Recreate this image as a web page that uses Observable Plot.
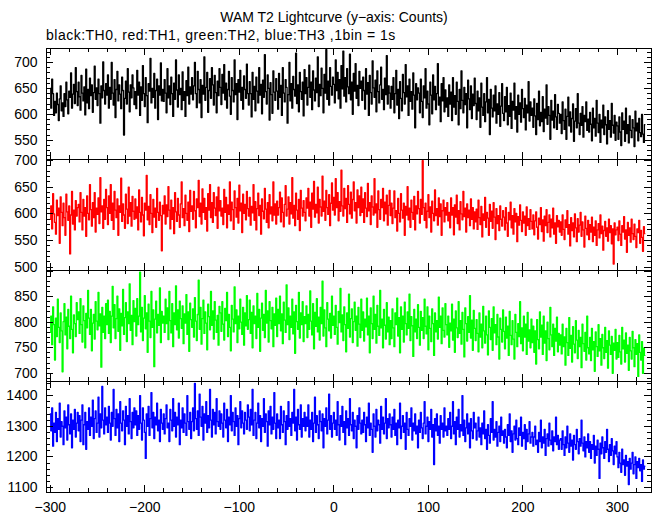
<!DOCTYPE html>
<html>
<head>
<meta charset="utf-8">
<script src="https://cdn.jsdelivr.net/npm/d3@7"></script>
<script src="https://cdn.jsdelivr.net/npm/@observablehq/plot@0.6"></script>
<style>
  body { margin: 0; background: white; }
  #head { position: relative; width: 652px; height: 46px; font-family: "Liberation Sans", Arial, sans-serif; color: black; }
  #title { position: absolute; left: 0; top: 9px; width: 652px; box-sizing: border-box; padding-left: 16px; text-align: center; font-size: 14px; line-height: 16px; }
  #subtitle { position: absolute; left: 46px; top: 27px; font-size: 14px; line-height: 16px; letter-spacing: 0.5px; white-space: nowrap; }
  #chart { position: relative; width: 652px; height: 469px; }
  #chart svg { position: absolute; left: 0; top: 0; }
</style>
</head>
<body>
<div id="head">
  <div id="title">WAM T2 Lightcurve (y−axis: Counts)</div>
  <div id="subtitle">black:TH0, red:TH1, green:TH2, blue:TH3 ,1bin = 1s</div>
</div>
<div id="chart"></div>
<script>
// ---- data: counts per 1 s bin, starting at t = -300 s ----
const tStart = -300;
const binSize = 1;

const th0 = [
650,612,668,640,598,625,603,641,619,588,630,655,607,622,596,640,615,662,628,601,645,633,680,612,639,658,621,690,644,617,
662,634,608,675,641,626,653,599,687,622,648,611,670,636,657,604,642,693,629,651,617,668,640,583,655,632,701,646,620,659,
637,676,612,652,629,700,641,618,667,594,648,683,626,657,639,611,672,646,560,631,664,620,688,643,605,657,632,676,651,619,
644,611,685,637,662,598,653,627,694,640,615,671,636,584,659,645,708,622,650,633,679,612,646,668,590,655,637,699,626,648,
625,667,641,603,688,632,655,619,672,640,596,660,629,705,647,614,676,638,650,609,682,627,644,596,665,636,691,620,653,639,
671,628,655,700,640,613,683,648,622,667,594,656,639,711,627,652,681,604,646,669,631,690,657,618,675,642,603,664,636,688,
652,619,677,641,696,628,660,612,648,683,635,600,671,646,624,705,638,659,590,667,643,685,627,652,610,674,648,631,697,640,
618,663,640,595,681,629,654,607,672,645,622,690,637,658,601,666,633,715,644,620,676,650,589,661,638,602,684,643,627,669,
645,610,679,633,656,598,690,641,624,667,652,583,638,700,626,659,612,673,648,635,718,621,657,605,681,644,629,662,597,686,
640,671,618,652,695,633,662,609,684,647,626,670,642,711,615,658,636,689,650,603,677,641,725,629,664,618,690,654,637,672,
658,622,705,646,681,630,667,612,694,649,722,635,671,624,688,653,640,716,628,662,600,679,645,698,631,656,617,683,650,664,
627,672,646,610,688,639,661,598,675,642,620,703,651,633,666,605,684,644,622,657,691,629,648,609,670,638,713,620,655,641,
612,654,629,671,603,640,685,618,648,592,663,631,607,677,642,620,696,634,655,598,668,625,644,610,680,637,574,659,628,651,
641,603,668,625,594,655,632,688,612,645,620,580,662,637,601,676,628,654,609,640,698,618,633,586,659,626,671,605,647,614,
632,596,657,620,643,588,671,614,636,600,662,625,580,648,611,684,627,603,652,619,640,574,666,630,609,655,592,639,617,670,
621,590,645,607,632,575,660,614,598,640,586,624,671,603,629,561,648,612,595,637,607,655,583,620,600,642,577,616,659,602,
588,634,605,652,580,617,596,641,573,625,608,660,591,615,566,637,600,622,585,648,611,594,631,570,618,603,663,587,624,598,
612,575,630,597,561,621,590,645,578,604,586,634,567,610,593,657,581,615,598,552,627,589,606,574,638,595,571,619,602,583,
600,563,624,588,571,610,552,596,633,578,605,566,592,620,548,587,611,574,640,583,561,602,579,615,556,598,586,624,569,591,
566,604,581,549,612,574,592,558,627,583,565,600,546,589,574,618,561,595,580,543,607,571,588,556,621,579,564,598,550,585,
578,552,595,566,540,603,571,587,548,612,563,580,545,597,569,555,590,574,538,606,568,583,549,592,565,557,600,562,546,580
];

const th1 = [
590,615,572,638,600,584,562,626,597,611,545,632,603,578,620,593,560,637,604,588,615,525,598,642,581,607,570,625,596,612,
618,585,640,603,570,627,596,612,558,634,601,589,655,608,577,621,593,640,566,611,599,630,582,668,604,615,573,627,590,646,
612,580,634,601,655,588,620,571,642,607,593,628,560,615,603,667,586,619,598,573,637,609,582,650,596,621,577,633,605,590,
628,592,613,570,645,603,585,631,598,559,620,607,672,589,614,580,636,601,565,627,594,611,575,648,603,588,622,597,531,616,
600,634,581,617,595,651,607,572,626,590,612,563,640,604,586,629,598,575,619,660,593,610,578,635,601,588,622,567,644,605,
615,590,642,606,574,628,612,663,595,620,581,647,603,629,590,612,568,638,607,655,593,621,584,640,611,597,632,573,650,606,
625,596,611,580,646,603,631,574,617,599,660,587,622,608,571,643,612,594,629,583,654,606,620,565,637,601,618,589,642,610,
596,631,579,614,602,655,588,623,570,610,639,597,616,562,628,605,591,648,609,584,621,574,636,600,613,587,660,598,619,581,
624,598,612,641,585,630,603,576,618,653,596,609,632,581,621,600,668,592,616,578,639,607,590,627,569,644,611,596,625,603,
587,630,611,648,596,622,575,639,609,661,594,618,602,650,583,627,613,596,671,605,624,588,644,612,599,636,578,620,658,607,
631,598,666,612,640,587,623,605,682,615,596,648,610,629,584,653,618,600,641,592,627,660,606,621,583,645,612,634,597,650,
603,628,584,640,611,595,657,606,621,580,634,613,598,666,602,619,575,643,608,590,627,612,648,587,622,600,635,579,616,644,
597,620,582,611,643,593,606,568,629,601,585,638,607,592,620,560,614,598,651,589,611,575,626,603,590,633,570,615,600,642,
610,583,627,599,700,612,588,620,574,605,636,593,613,566,624,601,587,645,597,610,579,630,595,619,560,606,626,585,612,598,
621,587,603,574,630,598,612,561,617,594,635,582,606,570,623,600,589,642,595,611,566,619,593,607,578,628,590,612,572,604,
585,609,571,626,593,580,614,557,600,588,631,575,603,592,560,618,586,605,573,621,594,552,610,582,597,569,615,590,577,606,
594,570,612,583,558,603,589,622,574,597,562,610,585,601,548,595,579,617,588,567,604,583,596,560,613,578,591,571,608,586,
572,598,561,587,604,575,553,592,580,612,567,589,549,596,578,608,565,584,598,557,590,574,611,562,583,545,597,576,588,566,
585,560,598,571,552,589,575,606,562,580,540,593,569,583,557,600,574,548,591,566,579,603,558,585,570,538,596,573,561,588,
552,580,566,594,548,575,560,587,541,570,582,555,598,563,577,532,569,586,558,574,549,590,565,578,544,572,506,583,561,570,
575,550,587,562,541,578,566,595,553,570,528,584,560,574,547,590,563,552,581,558,537,572,565,588,545,569,556,530,576,563
];

const th2 = [
780,812,756,830,795,726,808,772,845,790,760,818,783,703,801,836,775,810,748,825,792,768,851,786,740,814,797,772,838,805,
820,778,846,795,761,832,803,750,817,789,862,808,776,825,744,798,815,767,840,802,785,858,793,816,712,829,780,812,768,836,
795,843,778,821,760,812,870,789,834,768,807,851,782,826,745,817,793,864,776,809,838,762,820,797,875,784,813,756,842,801,
827,773,846,795,812,898,781,829,764,808,852,787,818,741,835,802,770,860,790,824,713,806,841,779,815,794,867,760,821,798,
812,780,845,797,828,766,860,803,779,836,752,818,795,871,785,824,769,841,807,788,832,758,816,798,854,776,820,743,837,805,
790,826,771,848,802,764,815,882,786,829,757,807,843,778,820,798,746,835,811,785,860,794,822,767,840,804,780,813,755,831,
818,782,840,796,765,827,803,858,772,815,790,744,833,806,781,869,797,824,760,812,787,845,800,776,829,755,818,793,852,786,
805,843,778,819,750,832,797,812,768,856,790,825,743,808,837,784,815,770,862,798,822,761,840,803,787,829,752,816,794,847,
772,825,797,851,783,816,758,839,804,780,873,795,828,766,812,790,845,777,820,739,833,801,786,858,769,818,795,840,762,811,
797,832,770,815,786,861,802,775,836,748,819,792,846,781,810,765,829,797,880,773,824,789,752,838,806,783,817,769,851,794,
812,776,833,790,757,821,799,866,781,814,764,830,795,742,818,788,855,771,807,826,760,801,839,784,812,753,829,796,770,845,
784,820,763,806,791,847,775,812,740,828,797,768,851,786,815,759,833,792,774,862,789,806,750,825,794,767,838,781,810,756,
803,768,826,789,752,818,795,847,773,809,740,830,786,812,761,839,797,775,820,788,855,764,811,793,733,825,781,806,768,834,
790,755,821,784,809,768,845,792,777,830,746,812,788,762,826,797,735,818,781,803,767,849,790,812,758,828,784,771,836,795,
775,812,751,798,783,835,765,806,741,822,789,770,840,778,803,757,819,786,732,828,797,763,811,780,852,769,804,745,823,788,
764,805,778,742,818,771,796,750,831,783,759,812,775,736,822,790,766,807,745,830,779,795,756,815,771,728,808,786,761,824,
782,748,810,769,792,735,821,774,756,803,767,728,815,780,752,797,772,840,758,789,744,812,771,796,737,819,763,785,750,806,
760,792,741,783,718,805,766,748,820,771,794,737,812,759,783,725,800,768,746,829,775,752,796,735,788,763,810,742,778,755,
775,738,796,752,771,716,788,760,735,809,749,774,722,791,757,740,803,765,729,784,752,770,711,796,758,743,780,726,812,750,
738,770,725,788,746,762,704,781,752,733,795,744,768,716,776,750,729,790,741,764,710,783,755,737,772,700,759,745,786,728,
760,731,774,742,718,790,748,765,722,779,739,755,706,770,744,728,782,750,713,766,737,758,694,775,741,726,762,700,749,735
];

const th3 = [
1340,1285,1360,1235,1310,1280,1345,1250,1325,1290,1375,1265,1315,1300,1240,1350,1295,1330,1255,1370,1305,1275,1340,1230,1320,1290,1355,1265,1310,1345,
1285,1335,1250,1320,1370,1240,1305,1345,1225,1315,1290,1360,1270,1330,1300,1385,1260,1325,1350,1280,1310,1395,1265,1340,1295,1430,1320,1275,1360,1305,
1330,1280,1365,1310,1255,1345,1300,1420,1325,1270,1355,1295,1340,1250,1380,1310,1285,1350,1320,1240,1365,1300,1335,1275,1390,1315,1260,1345,1295,1360,
1305,1350,1270,1335,1290,1400,1310,1255,1360,1320,1280,1195,1340,1300,1365,1270,1325,1410,1295,1345,1260,1330,1305,1375,1285,1320,1250,1355,1310,1290,
1340,1275,1325,1370,1295,1310,1250,1355,1320,1285,1390,1300,1345,1265,1330,1305,1375,1240,1320,1295,1360,1280,1340,1310,1270,1400,1315,1290,1345,1260,
1315,1360,1285,1440,1325,1290,1350,1270,1405,1330,1300,1365,1255,1340,1310,1380,1280,1335,1295,1420,1320,1265,1355,1305,1345,1275,1390,1315,1300,1350,
1290,1340,1310,1265,1375,1320,1295,1355,1250,1330,1305,1400,1285,1345,1315,1270,1360,1300,1335,1240,1325,1380,1295,1350,1310,1275,1345,1320,1290,1370,
1330,1285,1355,1305,1420,1270,1320,1345,1260,1310,1375,1295,1335,1250,1325,1300,1390,1280,1340,1315,1235,1350,1305,1365,1275,1330,1290,1410,1310,1260,
1340,1295,1320,1260,1365,1305,1280,1350,1315,1240,1335,1290,1380,1300,1325,1270,1345,1310,1420,1285,1330,1255,1355,1305,1290,1370,1265,1325,1300,1345,
1285,1330,1300,1370,1265,1320,1290,1345,1250,1310,1395,1280,1335,1305,1260,1350,1315,1285,1340,1230,1325,1300,1360,1275,1320,1405,1290,1335,1265,1310,
1345,1290,1320,1270,1380,1305,1255,1335,1300,1365,1280,1315,1240,1350,1295,1325,1270,1390,1305,1285,1345,1260,1320,1300,1230,1335,1290,1360,1310,1275,
1320,1280,1345,1305,1250,1330,1295,1375,1270,1310,1290,1215,1340,1300,1265,1355,1285,1320,1305,1245,1365,1290,1330,1275,1310,1390,1260,1325,1295,1340,
1305,1265,1330,1290,1355,1270,1310,1240,1320,1295,1375,1260,1300,1335,1280,1310,1225,1345,1290,1270,1325,1300,1360,1255,1310,1285,1340,1275,1300,1230,
1320,1280,1345,1295,1260,1310,1380,1275,1300,1330,1250,1315,1290,1355,1265,1305,1175,1325,1285,1340,1270,1300,1245,1335,1290,1310,1265,1360,1285,1300,
1270,1325,1290,1345,1260,1300,1380,1275,1315,1240,1330,1290,1355,1265,1305,1285,1400,1270,1320,1250,1295,1340,1275,1310,1230,1325,1285,1260,1345,1295,
1310,1255,1285,1330,1265,1295,1240,1310,1275,1350,1260,1290,1225,1305,1270,1245,1325,1280,1380,1255,1290,1265,1315,1235,1280,1300,1250,1330,1270,1285,
1245,1290,1265,1230,1305,1270,1340,1250,1285,1215,1275,1300,1255,1320,1260,1240,1295,1270,1330,1235,1280,1260,1305,1225,1290,1250,1275,1315,1245,1265,
1280,1235,1265,1300,1240,1255,1215,1280,1250,1320,1230,1265,1245,1290,1205,1260,1275,1235,1310,1255,1240,1285,1220,1265,1250,1330,1240,1270,1225,1255,
1260,1225,1285,1240,1205,1265,1230,1300,1245,1215,1275,1235,1255,1190,1270,1240,1225,1290,1250,1210,1260,1235,1320,1245,1220,1265,1200,1250,1230,1275,
1215,1250,1195,1240,1225,1270,1180,1235,1205,1255,1225,1130,1245,1210,1265,1230,1195,1250,1215,1290,1225,1185,1240,1205,1260,1220,1175,1235,1210,1250,
1200,1165,1215,1180,1150,1225,1175,1190,1140,1205,1170,1185,1110,1195,1160,1180,1215,1145,1175,1200,1130,1185,1165,1195,1155,1175,1120,1190,1160,1170
];

// ---- tick values ----
const xMajorTicks = [-300, -200, -100, 0, 100, 200, 300];
const xMinorTicks = [-300,-280,-260,-240,-220,-200,-180,-160,-140,-120,-100,-80,-60,-40,-20,0,20,40,60,80,100,120,140,160,180,200,220,240,260,280,300,320];

const y0Labels = [550, 600, 650, 700];
const y0Major = [550, 600, 650, 700];
const y0Minor = [520,530,540,550,560,570,580,590,600,610,620,630,640,650,660,670,680,690,700,710,720];

const y1Labels = [500, 550, 600, 650, 700];
const y1Major = [500, 550, 600, 650, 700];
const y1Minor = [500,510,520,530,540,550,560,570,580,590,600,610,620,630,640,650,660,670,680,690,700];

const y2Labels = [700, 750, 800, 850];
const y2Major = [700, 750, 800, 850, 900];
const y2Minor = [690,700,710,720,730,740,750,760,770,780,790,800,810,820,830,840,850,860,870,880,890,900];

const y3Labels = [1100, 1200, 1300, 1400];
const y3Major = [1100, 1200, 1300, 1400];
const y3Minor = [1100,1120,1140,1160,1180,1200,1220,1240,1260,1280,1300,1320,1340,1360,1380,1400,1420,1440];

// ---- layout ----
const W = 652, H = 469, HEAD = 46;
const ML = 46, MR = 1;
const panels = [
  {values: th0, color: "#000000", domain: [513, 727], top: 48,  bottom: 159, labels: y0Labels, major: y0Major, minor: y0Minor},
  {values: th1, color: "#ff0000", domain: [494, 702], top: 159, bottom: 270, labels: y1Labels, major: y1Major, minor: y1Minor},
  {values: th2, color: "#00ff00", domain: [684, 901], top: 270, bottom: 381, labels: y2Labels, major: y2Major, minor: y2Minor},
  {values: th3, color: "#0000ff", domain: [1084, 1446], top: 381, bottom: 492, labels: y3Labels, major: y3Major, minor: y3Minor}
];

const chart = document.getElementById("chart");
const fmt = d3.format("d");
const font = "'Liberation Sans', Arial, Helvetica, sans-serif";

panels.forEach((p, k) => {
  const rows = p.values.map((v, i) => ({t: tStart + i * binSize, v}));
  const ph = p.bottom - p.top;
  const pw = W - ML - MR;
  const majLen = 7, minLen = 4;
  const marks = [
    Plot.line(rows, {x: "t", y: "v", stroke: p.color, strokeWidth: 1.3, curve: "step", clip: true}),
    // x ticks, top and bottom, inward
    Plot.tickX(xMajorTicks, {x: d => d, insetBottom: ph - majLen, stroke: "black", shapeRendering: "crispEdges"}),
    Plot.tickX(xMajorTicks, {x: d => d, insetTop: ph - majLen, stroke: "black", shapeRendering: "crispEdges"}),
    Plot.tickX(xMinorTicks, {x: d => d, insetBottom: ph - minLen, stroke: "black", shapeRendering: "crispEdges"}),
    Plot.tickX(xMinorTicks, {x: d => d, insetTop: ph - minLen, stroke: "black", shapeRendering: "crispEdges"}),
    // y ticks, left and right, inward
    Plot.tickY(p.major, {y: d => d, insetRight: pw - majLen, stroke: "black", shapeRendering: "crispEdges"}),
    Plot.tickY(p.major, {y: d => d, insetLeft: pw - majLen, stroke: "black", shapeRendering: "crispEdges"}),
    Plot.tickY(p.minor, {y: d => d, insetRight: pw - minLen, stroke: "black", shapeRendering: "crispEdges"}),
    Plot.tickY(p.minor, {y: d => d, insetLeft: pw - minLen, stroke: "black", shapeRendering: "crispEdges"}),
    Plot.frame({stroke: "black", strokeWidth: 1, shapeRendering: "crispEdges"}),
    Plot.axisY(p.labels, {anchor: "left", tickSize: 0, tickPadding: 9, tickFormat: fmt, label: null, fontSize: 14})
  ];
  if (k === panels.length - 1) {
    marks.push(Plot.axisX(xMajorTicks, {anchor: "bottom", tickSize: 0, tickPadding: 10, tickFormat: fmt, label: null, fontSize: 14}));
  }
  const svg = Plot.plot({
    width: W,
    height: H,
    marginLeft: ML,
    marginRight: MR,
    marginTop: p.top - HEAD,
    marginBottom: HEAD + H - p.bottom,
    x: {domain: [-304, 336], axis: null},
    y: {domain: p.domain, axis: null},
    style: {background: "transparent", overflow: "visible", fontFamily: font, fontSize: "14px", color: "black"},
    marks
  });
  chart.appendChild(svg);
});
</script>
</body>
</html>
